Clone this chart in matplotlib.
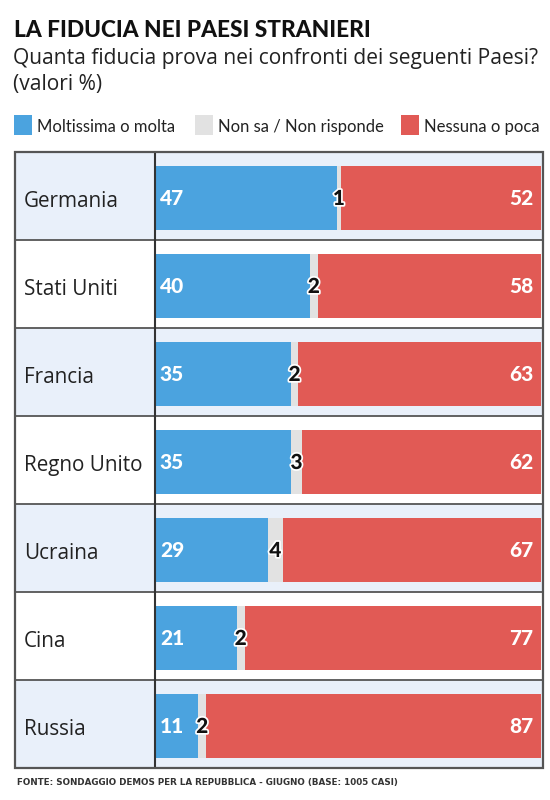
import matplotlib
matplotlib.use("Agg")
import matplotlib.pyplot as plt
import matplotlib.patheffects as pe
from matplotlib.patches import Rectangle

countries = ["Germania", "Stati Uniti", "Francia", "Regno Unito", "Ucraina", "Cina", "Russia"]
molta = [47, 40, 35, 35, 29, 21, 11]
nonsa = [1, 2, 2, 3, 4, 2, 2]
nessuna = [52, 58, 63, 62, 67, 77, 87]
legend_labels = ["Moltissima o molta", "Non sa / Non risponde", "Nessuna o poca"]

title = "LA FIDUCIA NEI PAESI STRANIERI"
subtitle1 = "Quanta fiducia prova nei confronti dei seguenti Paesi?"
subtitle2 = "(valori %)"
footer = "FONTE: SONDAGGIO DEMOS PER LA REPUBBLICA - GIUGNO (BASE: 1005 CASI)"

BLUE = "#4BA3DF"
GRAY = "#E2E2E2"
RED = "#E15A55"
ROWBG = "#E9F0FA"
LINE = "#555555"
TXT = "#222222"

W, H = 550, 800
fig = plt.figure(figsize=(5.5, 8), dpi=100)
fig.patch.set_facecolor("white")

def fx(px):
    return px / W

def fy(py):
    return 1 - py / H

# Title & subtitle
fig.text(fx(14), fy(37), title, fontsize=16.3, fontweight="black", family="Lato",
         color="#111111", va="baseline", ha="left")
fig.text(fx(13), fy(64), subtitle1,
         fontsize=15.1, family="Open Sans", color=TXT, va="baseline", ha="left")
fig.text(fx(13), fy(90), subtitle2, fontsize=15.1, family="Open Sans", color=TXT,
         va="baseline", ha="left")

# Legend
leg_sq_x = [14, 195, 401]
leg_colors = [BLUE, GRAY, RED]
for x0, c, lab in zip(leg_sq_x, leg_colors, legend_labels):
    fig.patches.append(Rectangle((fx(x0), fy(135)), 18 / W, 20 / H,
                                 transform=fig.transFigure, facecolor=c,
                                 edgecolor="none"))
    fig.text(fx(x0 + 23), fy(132), lab, fontsize=12, family="Lato",
             color=TXT, va="baseline", ha="left")

# Table axes
left_px, right_px, top_px, bot_px = 15, 543, 152, 768
row_px = (bot_px - top_px) / 7
ax = fig.add_axes([fx(left_px), fy(bot_px), (right_px - left_px) / W,
                   (bot_px - top_px) / H])
ppu = 3.85
xmin = -(156 - left_px) / ppu
xmax = 100 + (right_px - 541) / ppu
ax.set_xlim(xmin, xmax)
n = len(countries)
ax.set_ylim(n - 0.5, -0.5)
ax.axis("off")

bar_h = 0.716
bar_off = 2 / row_px
lab_base = 54.7 / row_px - 0.5
num_base = 53.0 / row_px - 0.5
for i, (c, a, b, r) in enumerate(zip(countries, molta, nonsa, nessuna)):
    if i % 2 == 0:
        ax.add_patch(Rectangle((xmin, i - 0.5), xmax - xmin, 1.0,
                               facecolor=ROWBG, edgecolor="none", zorder=0))
    yb = i + bar_off
    ax.barh(yb, a, left=0, height=bar_h, color=BLUE, zorder=2)
    ax.barh(yb, b, left=a, height=bar_h, color=GRAY, zorder=2)
    ax.barh(yb, r, left=a + b, height=bar_h, color=RED, zorder=2)
    ax.text(xmin + 9 / ppu, i + lab_base, c, fontsize=14.9, family="Open Sans",
            color=TXT, va="baseline", ha="left")
    yn = i + num_base
    ax.text(1.0, yn, str(a), fontsize=15, fontweight="black", family="Lato",
            color="white", va="baseline", ha="left", zorder=4)
    ax.text(a + b / 2, yn, str(b), fontsize=15, fontweight="black", family="Lato",
            color="#111111", va="baseline", ha="center", zorder=5,
            path_effects=[pe.withStroke(linewidth=2.5, foreground="white")])
    ax.text(100 - 8 / ppu, yn, str(r), fontsize=15, fontweight="black",
            family="Lato", color="white", va="baseline", ha="right", zorder=4)

# grid lines
for i in range(1, n):
    ax.plot([xmin, xmax], [i - 0.5, i - 0.5], color=LINE, lw=1.3, zorder=6,
            solid_capstyle="butt")
ax.plot([0 - 0.3, 0 - 0.3], [-0.5, n - 0.5], color="#333333", lw=1.5, zorder=6)
ax.add_patch(Rectangle((xmin, -0.5), xmax - xmin, n, facecolor="none",
                       edgecolor=LINE, lw=1.6, zorder=7, clip_on=False))

# Footer
fig.text(fx(17), fy(783), footer, fontsize=6.3, fontweight="bold",
         family="DejaVu Sans", color="#333333", va="center", ha="left")

fig.savefig("out.png", dpi=100, facecolor="white")
